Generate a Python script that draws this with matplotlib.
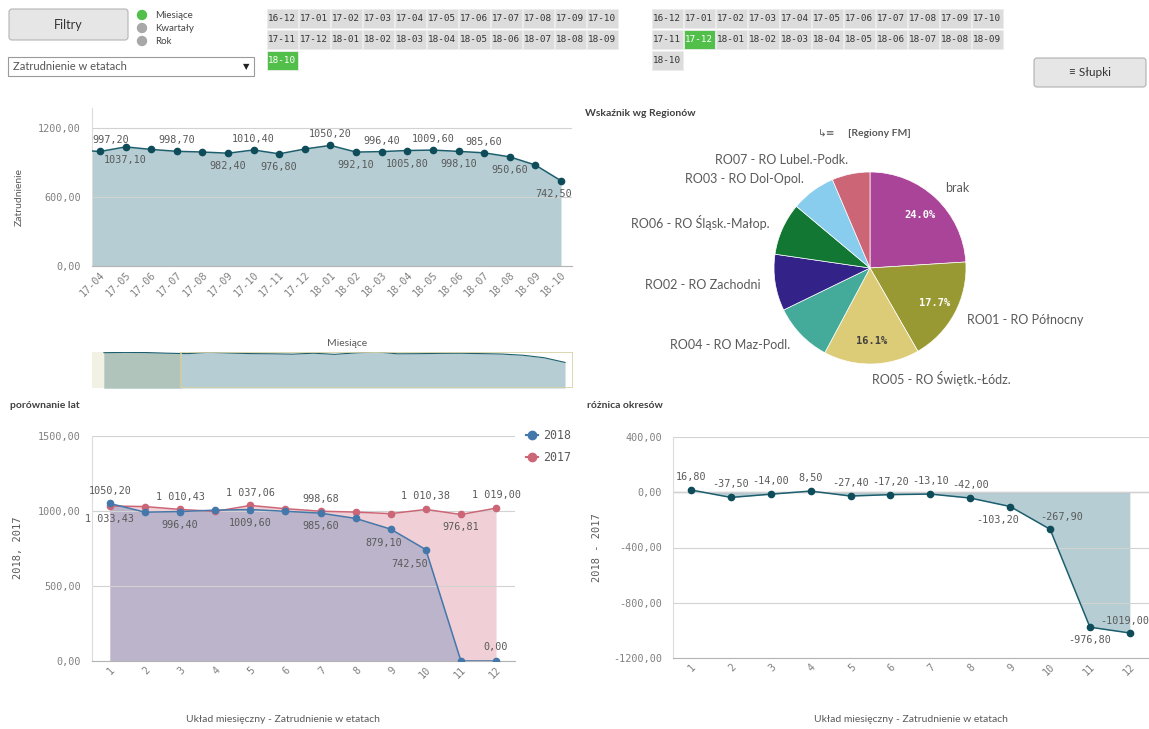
import numpy as np
import matplotlib.pyplot as plt
from matplotlib.patches import FancyBboxPatch, Rectangle, Circle
from matplotlib.lines import Line2D

W, H = 1149, 729

# ─── Data ────────────────────────────────────────────────────────────────────

months = ['16-12', '17-01', '17-02', '17-03', '17-04', '17-05', '17-06', '17-07',
          '17-08', '17-09', '17-10', '17-11', '17-12', '18-01', '18-02', '18-03',
          '18-04', '18-05', '18-06', '18-07', '18-08', '18-09', '18-10']
employment = [1025.00, 1033.43, 1029.60, 1010.43, 997.20, 1037.10, 1015.30, 998.70,
              992.60, 982.40, 1010.40, 976.80, 1019.00, 1050.20, 992.10, 996.40,
              1005.80, 1009.60, 998.10, 985.60, 950.60, 879.10, 742.50]
view_start = '17-04'

month_nums = list(range(1, 13))
emp_2018 = [1050.20, 992.10, 996.40, 1005.80, 1009.60, 998.10, 985.60, 950.60,
            879.10, 742.50, 0.00, 0.00]
emp_2017 = [1033.43, 1029.60, 1010.43, 997.30, 1037.06, 1015.30, 998.68, 992.60,
            982.30, 1010.38, 976.81, 1019.00]
emp_diff = [16.80, -37.50, -14.00, 8.50, -27.40, -17.20, -13.10, -42.00,
            -103.20, -267.90, -976.80, -1019.00]

regions = ['brak', 'RO01 - RO Północny', 'RO05 - RO Świętk.-Łódz.', 'RO04 - RO Maz-Podl.',
           'RO02 - RO Zachodni', 'RO06 - RO Śląsk.-Małop.', 'RO03 - RO Dol-Opol.',
           'RO07 - RO Lubel.-Podk.']
region_share = [24.0, 17.7, 16.1, 10.0, 9.5, 8.8, 7.5, 6.4]

period_options = ['Miesiące', 'Kwartały', 'Rok']
filter_buttons = months
selected_left = '18-10'
selected_right = '17-12'

# ─── Style ───────────────────────────────────────────────────────────────────

MONO = 'DejaVu Sans Mono'
SANS = 'Lato'
TICK_C = '#808080'
LABEL_C = '#5a5a5a'
TITLE_C = '#404040'
TEAL_FILL = '#b5cdd3'
TEAL_LINE = '#1d5e6e'
TEAL_DOT = '#0e4c5a'
BLUE = '#4477aa'
PINK = '#cc6677'
GREEN = '#52bf4b'
PIE_COLORS = ['#aa4499', '#999933', '#ddcc77', '#44aa99', '#332288',
              '#117733', '#88ccee', '#cc6677']

plt.rcParams['font.family'] = [SANS, 'DejaVu Sans']


def pl(v, sep=''):
    s = f'{v:,.2f}'.replace(',', '_').replace('.', ',')
    return s.replace('_', sep)


def box(l, t, r, b):
    return [l / W, 1 - b / H, (r - l) / W, (b - t) / H]


def style_axes(ax):
    for s in ('top', 'right'):
        ax.spines[s].set_visible(False)
    ax.spines['left'].set_color('#dcdcdc')
    ax.spines['bottom'].set_color('#b4b4b4')
    ax.grid(axis='y', color='#d2d2d2', lw=0.8)
    ax.set_axisbelow('line')
    ax.tick_params(length=0, labelcolor=TICK_C)
    ax.tick_params(axis='y', pad=8)
    ax.tick_params(axis='x', pad=3)


def value_label(ax, x, y, text, dy, dx=0):
    ax.annotate(text, (x, y), xytext=(dx, dy), textcoords='offset pixels',
                ha='center', va='center', fontsize=7.3, family=MONO,
                color=LABEL_C, zorder=6, annotation_clip=False)


fig = plt.figure(figsize=(W / 100, H / 100), dpi=100)

# ─── Top UI (filters) ────────────────────────────────────────────────────────

ui = fig.add_axes([0, 0, 1, 1], zorder=-1)
ui.set_xlim(0, W)
ui.set_ylim(H, 0)
ui.axis('off')

ui.add_patch(FancyBboxPatch((9, 9), 119, 31, boxstyle='round,pad=0,rounding_size=3',
                            facecolor='#e6e6e6', edgecolor='#b5b5b5', lw=0.8))
ui.text(68, 24.5, 'Filtry', ha='center', va='center', fontsize=9, color='#333333')

for i, opt in enumerate(period_options):
    ui.add_patch(Circle((142, 15 + i * 13), 4.5, color=GREEN if i == 0 else '#a8a8a8'))
    ui.text(155, 15 + i * 13, opt, ha='left', va='center', fontsize=7, color='#444444')

ui.add_patch(Rectangle((8, 57), 246, 19, facecolor='white', edgecolor='#9a9a9a', lw=0.8))
ui.text(13, 66.5, 'Zatrudnienie w etatach', ha='left', va='center', fontsize=8, color='#555555')
ui.text(246, 66.5, '▼', ha='center', va='center', fontsize=6, color='#222222',
        family='DejaVu Sans')

for grid_x, selected in ((267, selected_left), (652, selected_right)):
    for i, lab in enumerate(filter_buttons):
        r, c = divmod(i, 11)
        bx, by = grid_x + c * 32, 9 + r * 21
        sel = lab == selected
        ui.add_patch(Rectangle((bx, by), 30.5, 18.5, facecolor=GREEN if sel else '#dcdcdc',
                               edgecolor='#ececec', lw=0.6))
        ui.text(bx + 15.2, by + 9.5, lab, ha='center', va='center', family=MONO,
                fontsize=6.7, color='white' if sel else '#333333')

ui.add_patch(FancyBboxPatch((1034, 58), 112, 29, boxstyle='round,pad=0,rounding_size=3',
                            facecolor='#e6e6e6', edgecolor='#b0b0b0', lw=0.8))
ui.text(1090, 72.5, '≡ Słupki', ha='center', va='center', fontsize=8.5, color='#333333',
        family=[SANS, 'DejaVu Sans'])

# ─── Employment by month ─────────────────────────────────────────────────────

x = np.arange(len(months))
first = months.index(view_start)
view_left = first - 0.31
view_right = len(months) - 1 + 0.43

ax1 = fig.add_axes(box(92, 108, 572, 266))
ax1.fill_between(x, employment, color=TEAL_FILL, lw=0, zorder=1)
ax1.plot(x, employment, color=TEAL_LINE, lw=1.1, marker='o', ms=4.5,
         mfc=TEAL_DOT, mec=TEAL_DOT, zorder=3)
ax1.set_xlim(view_left, view_right)
ax1.set_ylim(0, 1376)
ax1.set_yticks([0, 600, 1200], [pl(v) for v in (0, 600, 1200)],
               family=MONO, fontsize=7.3)
ax1.set_xticks(x[first:], months[first:], family=MONO, fontsize=7.3,
               rotation=45, ha='right', va='top', rotation_mode='anchor')
style_axes(ax1)

top_above = ['17-04', '17-07', '17-10', '18-01', '18-03', '18-05', '18-07']
top_below = ['17-05', '17-09', '17-11', '18-02', '18-04', '18-06', '18-08', '18-10']
top_shift = {'17-04': 11, '18-10': -7}
for m in top_above + top_below:
    i = months.index(m)
    value_label(ax1, i, employment[i], pl(employment[i]),
                11 if m in top_above else -13, top_shift.get(m, 0))

fig.text(19 / W, 1 - 197 / H, 'Zatrudnienie', rotation=90, ha='center', va='center',
         fontsize=7.5, color=LABEL_C)

# range slider
s_left, s_right, s_top = -0.57, len(months) - 1 + 0.38, 1045
axs = fig.add_axes(box(92, 352, 573, 388))
axs.set_xlim(s_left, s_right)
axs.set_ylim(0, s_top)
axs.axvspan(s_left, 0, color='#f2f2e4', lw=0, zorder=0.5)
axs.fill_between(x, employment, color=TEAL_FILL, lw=0, zorder=1)
dim = axs.fill_between(x, employment, color='#b0c4bc', lw=0, zorder=1.2)
dim.set_clip_path(Rectangle((s_left, 0), view_left - s_left, s_top, transform=axs.transData))
axs.plot(x, employment, color=TEAL_LINE, lw=0.8, zorder=2)
axs.add_patch(Rectangle((view_left, 0), s_right - view_left, s_top,
                        fill=False, edgecolor='#d5d1a2', lw=1.2, zorder=5))
axs.axis('off')
fig.text(347 / W, 1 - 344 / H, 'Miesiące', ha='center', va='center', fontsize=7.5,
         color=LABEL_C)

# ─── Pie by region ───────────────────────────────────────────────────────────

axp = fig.add_axes(box(750, 148, 990, 388))
wedges, texts, autotexts = axp.pie(
    region_share, colors=PIE_COLORS, startangle=90, counterclock=False,
    labels=regions, labeldistance=1.15,
    autopct=lambda p: f'{p:.1f}%' if p >= 16 else '', pctdistance=0.76,
    wedgeprops=dict(edgecolor='white', linewidth=0.5),
    textprops=dict(fontsize=9, color=LABEL_C))
for t, c in zip(autotexts, ['white', 'white', '#404040']):
    t.set_color(c)
    t.set_family(MONO)
    t.set_fontsize(7.5)
    t.set_weight('bold')
axp.set_xlim(-1.25, 1.25)
axp.set_ylim(-1.25, 1.25)

fig.text(585 / W, 1 - 113 / H, 'Wskaźnik wg Regionów', ha='left', va='center',
         fontsize=7.5, weight='bold', color=TITLE_C)
fig.text(827 / W, 1 - 133 / H, '↳≡', ha='center', va='center', fontsize=7.5,
         color=LABEL_C, family='DejaVu Sans')
fig.text(879 / W, 1 - 133 / H, '[Regiony FM]', ha='center', va='center', fontsize=7.5,
         weight='bold', color=LABEL_C)

# ─── Year comparison ─────────────────────────────────────────────────────────

ax2 = fig.add_axes(box(92, 436, 515, 661))
ax2.fill_between(month_nums, emp_2017, color='#f0d0d6', lw=0, zorder=1)
ax2.fill_between(month_nums, emp_2018, color='#bbb4ca', lw=0, zorder=1.1)
ax2.plot(month_nums, emp_2017, color=PINK, lw=1.1, marker='o', ms=4.5, zorder=3)
ax2.plot(month_nums, emp_2018, color=BLUE, lw=1.1, marker='o', ms=4.5, zorder=3.1)
ax2.set_xlim(0.49, 12.54)
ax2.set_ylim(0, 1500)
ax2.set_yticks([0, 500, 1000, 1500], [pl(v) for v in (0, 500, 1000, 1500)],
               family=MONO, fontsize=7.3)
ax2.set_xticks(month_nums, [str(m) for m in month_nums], family=MONO, fontsize=7.3,
               rotation=45, ha='right', va='top', rotation_mode='anchor')
style_axes(ax2)

lab_2018 = {1: (12, 0), 3: (-13, 0), 5: (-13, 0), 7: (-13, 0), 9: (-14, -7),
            10: (-14, -16), 12: (14, 0)}
lab_2017 = {1: (-13, 0), 3: (12, 0), 5: (12, 0), 7: (12, 0), 10: (13, 0),
            11: (-13, 0), 12: (13, 0)}
for m, (dy, dx) in lab_2018.items():
    value_label(ax2, m, emp_2018[m - 1], pl(emp_2018[m - 1]), dy, dx)
for m, (dy, dx) in lab_2017.items():
    value_label(ax2, m, emp_2017[m - 1], pl(emp_2017[m - 1], ' '), dy, dx)

handles = [Line2D([0], [0], color=c, lw=1.5, marker='o', ms=6) for c in (BLUE, PINK)]
ax2.legend(handles, ['2018', '2017'], loc='upper left', bbox_to_anchor=(520 / W, 1 - 423 / H),
           bbox_transform=fig.transFigure, frameon=False, prop={'family': MONO, 'size': 8.4},
           labelcolor=LABEL_C, handlelength=1.0, handletextpad=0.5, labelspacing=0.75,
           borderpad=0)

fig.text(10 / W, 1 - 406 / H, 'porównanie lat', ha='left', va='center', fontsize=7.5,
         weight='bold', color=TITLE_C)
fig.text(18 / W, 1 - 548 / H, '2018, 2017', rotation=90, ha='center', va='center',
         fontsize=7.5, family=MONO, color=LABEL_C)
fig.text(283 / W, 1 - 720 / H, 'Układ miesięczny - Zatrudnienie w etatach', ha='center',
         va='center', fontsize=7.5, color=LABEL_C)

# ─── Period difference ───────────────────────────────────────────────────────

ax3 = fig.add_axes(box(673, 437, 1149, 658))
ax3.fill_between(month_nums, emp_diff, color=TEAL_FILL, lw=0, zorder=1)
ax3.plot(month_nums, emp_diff, color=TEAL_LINE, lw=1.1, marker='o', ms=4.5,
         mfc=TEAL_DOT, mec=TEAL_DOT, zorder=3)
ax3.set_xlim(0.55, 12.48)
ax3.set_ylim(-1200, 400)
ax3.set_yticks([-1200, -800, -400, 0, 400], [pl(v) for v in (-1200, -800, -400, 0, 400)],
               family=MONO, fontsize=7.3)
ax3.set_xticks(month_nums, [str(m) for m in month_nums], family=MONO, fontsize=7.3,
               rotation=45, ha='right', va='top', rotation_mode='anchor')
style_axes(ax3)
ax3.axhline(0, color='#bcbcbc', lw=1.0, zorder=1.5)

diff_pos = {9: (-13, -12), 10: (12, 12), 11: (-13, 0), 12: (12, -5)}
for m in month_nums:
    dy, dx = diff_pos.get(m, (13, 0))
    value_label(ax3, m, emp_diff[m - 1], pl(emp_diff[m - 1]), dy, dx)

fig.text(587 / W, 1 - 406 / H, 'różnica okresów', ha='left', va='center', fontsize=7.5,
         weight='bold', color=TITLE_C)
fig.text(597 / W, 1 - 548 / H, '2018 - 2017', rotation=90, ha='center', va='center',
         fontsize=7.5, family=MONO, color=LABEL_C)
fig.text(911 / W, 1 - 720 / H, 'Układ miesięczny - Zatrudnienie w etatach', ha='center',
         va='center', fontsize=7.5, color=LABEL_C)

fig.savefig('out.png', dpi=100, facecolor='white')
